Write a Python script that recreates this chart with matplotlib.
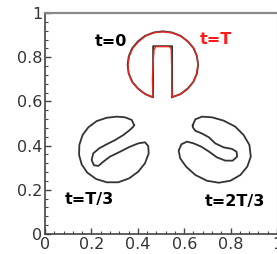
import numpy as np
import matplotlib.pyplot as plt
from matplotlib.ticker import MultipleLocator, AutoMinorLocator

# Contornos (disco de Zalesak deformado)
# t=0
x_t0 = [0.548, 0.584, 0.615, 0.640, 0.655, 0.660, 0.655, 0.640, 0.615, 0.584, 0.547, 0.508,
        0.469, 0.432, 0.401, 0.376, 0.361, 0.356, 0.361, 0.376, 0.401, 0.432, 0.466, 0.466,
        0.548, 0.548]
y_t0 = [0.619, 0.633, 0.658, 0.689, 0.726, 0.765, 0.804, 0.841, 0.872, 0.897, 0.912, 0.917,
        0.912, 0.897, 0.872, 0.841, 0.804, 0.765, 0.726, 0.689, 0.658, 0.633, 0.618, 0.850,
        0.850, 0.619]

# t=T
x_tT = [0.549, 0.582, 0.614, 0.638, 0.653, 0.659, 0.656, 0.642, 0.617, 0.585, 0.548, 0.509,
        0.470, 0.433, 0.403, 0.378, 0.363, 0.358, 0.360, 0.374, 0.398, 0.430, 0.466, 0.463,
        0.467, 0.470, 0.478, 0.536, 0.544, 0.546, 0.546, 0.549]
y_tT = [0.621, 0.631, 0.655, 0.687, 0.724, 0.764, 0.803, 0.840, 0.870, 0.895, 0.910, 0.915,
        0.911, 0.896, 0.870, 0.840, 0.804, 0.766, 0.727, 0.690, 0.660, 0.634, 0.619, 0.700,
        0.790, 0.835, 0.848, 0.848, 0.838, 0.760, 0.680, 0.621]

# t=T/3
x_t1 = [0.384, 0.374, 0.345, 0.309, 0.266, 0.223, 0.187, 0.162, 0.148, 0.147, 0.158, 0.182,
        0.220, 0.266, 0.316, 0.363, 0.402, 0.431, 0.447, 0.445, 0.431, 0.402, 0.366, 0.323,
        0.280, 0.251, 0.230, 0.211, 0.201, 0.208, 0.234, 0.266, 0.302, 0.338, 0.366, 0.381,
        0.384]
y_t1 = [0.493, 0.516, 0.528, 0.531, 0.526, 0.511, 0.483, 0.448, 0.403, 0.357, 0.315, 0.278,
        0.249, 0.234, 0.234, 0.252, 0.282, 0.320, 0.365, 0.398, 0.415, 0.410, 0.395, 0.372,
        0.350, 0.327, 0.308, 0.311, 0.335, 0.365, 0.388, 0.406, 0.425, 0.448, 0.471, 0.486,
        0.493]

# t=2T/3
x_t2 = [0.637, 0.648, 0.677, 0.720, 0.770, 0.820, 0.856, 0.881, 0.887, 0.872, 0.842, 0.799,
        0.749, 0.698, 0.648, 0.608, 0.583, 0.576, 0.588, 0.612, 0.641, 0.674, 0.708, 0.741,
        0.777, 0.809, 0.828, 0.826, 0.806, 0.770, 0.734, 0.706, 0.674, 0.648, 0.637, 0.637]
y_t2 = [0.493, 0.519, 0.531, 0.528, 0.513, 0.486, 0.448, 0.403, 0.350, 0.305, 0.267, 0.241,
        0.232, 0.241, 0.267, 0.305, 0.342, 0.377, 0.406, 0.418, 0.410, 0.395, 0.372, 0.347,
        0.332, 0.332, 0.350, 0.372, 0.385, 0.392, 0.410, 0.438, 0.456, 0.467, 0.483, 0.493]

fig = plt.figure(figsize=(2.77, 2.54), dpi=100)
ax = fig.add_axes([45/277, 20/254, 232/277, 221/254])

cor = '#333333'
ax.plot(x_t0, y_t0, color=cor, lw=1.3, solid_joinstyle='round')
ax.plot(x_t1, y_t1, color=cor, lw=1.3, solid_joinstyle='round')
ax.plot(x_t2, y_t2, color=cor, lw=1.3, solid_joinstyle='round')
ax.plot(x_tT, y_tT, color='#e8281e', lw=1.0, solid_joinstyle='round')

ax.text(0.284, 0.873, 't=0', fontsize=11.5, fontweight='bold', ha='center', va='center')
ax.text(0.737, 0.878, 't=T', fontsize=11.5, fontweight='bold', color='#ff1a1a',
        ha='center', va='center')
ax.text(0.19, 0.154, 't=T/3', fontsize=11.5, fontweight='bold', ha='center', va='center')
ax.text(0.819, 0.145, 't=2T/3', fontsize=11.5, fontweight='bold', ha='center', va='center')

ax.set_xlim(0, 1)
ax.set_ylim(0, 1)
ax.xaxis.set_major_locator(MultipleLocator(0.2))
ax.yaxis.set_major_locator(MultipleLocator(0.2))
ax.xaxis.set_minor_locator(AutoMinorLocator(5))
ax.yaxis.set_minor_locator(AutoMinorLocator(5))
ax.xaxis.set_major_formatter(plt.FuncFormatter(lambda v, p: f'{v:g}'))
ax.yaxis.set_major_formatter(plt.FuncFormatter(lambda v, p: f'{v:g}'))
ax.tick_params(which='both', direction='in', colors='#444444', labelcolor='#333333',
               labelsize=11.5)
ax.tick_params(which='major', length=4, width=1, pad=2)
ax.tick_params(which='minor', length=2, width=0.8)

for s in ['left', 'bottom']:
    ax.spines[s].set_color('#444444')
    ax.spines[s].set_linewidth(1.2)
ax.spines['top'].set_color('#888888')
ax.spines['top'].set_linewidth(1.6)
ax.spines['right'].set_color('#bbbbbb')

plt.savefig('out.png', dpi=100)
